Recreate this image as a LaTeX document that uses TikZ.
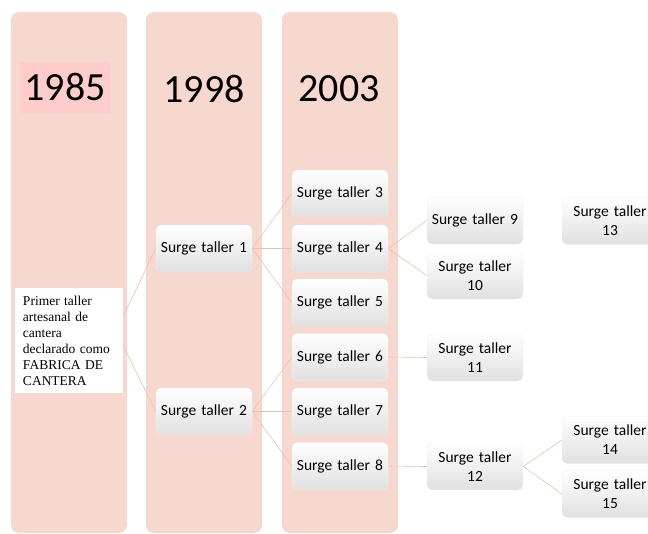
\documentclass[tikz,border=0pt]{standalone}
\usepackage{fontspec}
\setmainfont{Liberation Serif}
\newfontfamily\calibri{Carlito}
\usetikzlibrary{positioning}

\definecolor{colfill}{RGB}{247,216,206}
\definecolor{yearhl}{RGB}{255,204,204}
\definecolor{linkcol}{RGB}{244,190,165}
\definecolor{boxgray}{RGB}{224,224,224}

\pgfdeclarelayer{columns}
\pgfdeclarelayer{links}
\pgfsetlayers{columns,links,main}

\tikzset{
  column/.style = { rectangle, rounded corners = 8pt, fill = colfill,
                    minimum width = 116pt, minimum height = 521pt, inner sep = 0pt },
  year/.style   = { font = \calibri\fontsize{40}{48}\selectfont, inner sep = 0pt },
  taller/.style = { rectangle, rounded corners = 5pt, draw = white!94!black,
                    top color = white, bottom color = boxgray,
                    minimum width = 96pt, minimum height = 47pt,
                    text width = 90pt, align = center, inner sep = 0pt,
                    font = \calibri\fontsize{15.5}{19}\selectfont },
  link/.style   = { draw = linkcol, line width = 0.6pt }
}

\begin{document}
\begin{tikzpicture}[x = 1pt, y = -1pt]

  \useasboundingbox (0,0) rectangle (648,533);
  \clip (0,0) rectangle (648,533);

  % timeline columns
  \begin{pgfonlayer}{columns}
    \node (col1985) [column] at (69,272.5) {};
    \node (col1998) [column] at (204,272.5) {};
    \node (col2003) [column] at (340,272.5) {};
  \end{pgfonlayer}

  \node (y1985) [year, fill = yearhl, minimum width = 90pt, minimum height = 51pt] at (65,87) {1985};
  \node (y1998) [year] at (204,89) {1998};
  \node (y2003) [year] at (339,89) {2003};

  % root
  \node (primer) [fill = white, minimum width = 108pt, minimum height = 105pt,
                  text width = 92pt, align = left, inner sep = 0pt,
                  font = \fontsize{13.5}{16}\selectfont] at (69,340.5)
        {Primer taller\\artesanal de\\cantera\\declarado como\\FABRICA DE\\CANTERA};
  \coordinate (hub) at (116,331);

  % talleres
  \node (t1) [taller] at (204,248.5) {Surge taller 1};
  \node (t2) [taller] at (204,411.5) {Surge taller 2};

  \node (t3) [taller] at (340,193.5) {Surge taller 3};
  \node (t4) [taller] at (340,248.5) {Surge taller 4};
  \node (t5) [taller] at (340,302.5) {Surge taller 5};
  \node (t6) [taller] at (340,357)   {Surge taller 6};
  \node (t7) [taller] at (340,411.5) {Surge taller 7};
  \node (t8) [taller] at (340,466)   {Surge taller 8};

  \node (t9)  [taller] at (475,220.5) {Surge taller 9};
  \node (t10) [taller] at (475,275.5) {Surge taller\\10};
  \node (t11) [taller] at (475,357.5) {Surge taller\\11};
  \node (t12) [taller] at (475,466.5) {Surge taller\\12};

  \node (t13) [taller] at (610,221) {Surge taller\\13};
  \node (t14) [taller] at (610,440) {Surge taller\\14};
  \node (t15) [taller] at (610,494) {Surge taller\\15};

  % connectors
  \begin{pgfonlayer}{links}
    \draw[link] (hub) -- (t1.west);
    \draw[link] (hub) -- (t2.west);
    \draw[link] (t1.east) -- (t3.west);
    \draw[link] (t1.east) -- (t4.west);
    \draw[link] (t1.east) -- (t5.west);
    \draw[link] (t2.east) -- (t6.west);
    \draw[link] (t2.east) -- (t7.west);
    \draw[link] (t2.east) -- (t8.west);
    \draw[link] (t4.east) -- (t9.west);
    \draw[link] (t4.east) -- (t10.west);
    \draw[link] (t6.east) -- (t11.west);
    \draw[link] (t8.east) -- (t12.west);
    \draw[link] (t12.east) -- (t14.west);
    \draw[link] (t12.east) -- (t15.west);
  \end{pgfonlayer}

\end{tikzpicture}
\end{document}
